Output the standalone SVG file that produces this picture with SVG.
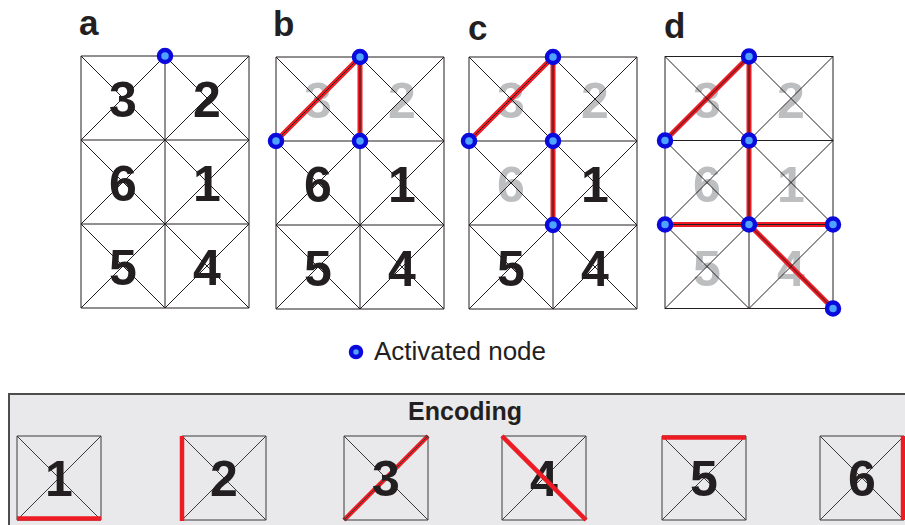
<svg xmlns="http://www.w3.org/2000/svg" xmlns:xlink="http://www.w3.org/1999/xlink" width="905" height="525" viewBox="0 0 905 525">
<style>
.lbl{font-family:"Liberation Sans",Arial,sans-serif;font-weight:bold;font-size:35px;fill:#231f20}
.dg{font-family:"Liberation Sans",Arial,sans-serif;font-weight:bold;font-size:50px;text-anchor:middle;fill:#231f20}
.gr{fill:#bcbec0}
.grid{fill:none;stroke:#231f20;stroke-width:1}
.edge{stroke:#ed1c24;stroke-width:5;stroke-linecap:round;fill:none}
.enc{stroke:#ed1c24;stroke-width:4.5;fill:none}
.node{fill:#4da3ff;stroke:#0a0adc;stroke-width:4.5}
.legend{font-family:"Liberation Sans",Arial,sans-serif;font-size:26px;fill:#231f20}
.title{font-family:"Liberation Sans",Arial,sans-serif;font-weight:bold;font-size:25px;fill:#231f20;text-anchor:middle}
.sq{fill:none;stroke:#3a3a3a;stroke-width:1}
</style>
<defs>
<path id="grid" class="grid" d="M0 0H168V252H0Z M84 0V252 M0 84H168 M0 168H168 M0 0L84 84 M84 0L0 84 M84 0L168 84 M168 0L84 84 M0 84L84 168 M84 84L0 168 M84 84L168 168 M168 84L84 168 M0 168L84 252 M84 168L0 252 M84 168L168 252 M168 168L84 252"/>
<path id="sq" class="sq" d="M0 0H84V84H0Z M0 0L84 84 M84 0L0 84"/>
</defs>

<!-- Panel a -->
<g id="panel-a">
<text class="lbl" x="79" y="35">a</text>
<g transform="translate(81,56)">
<text class="dg" x="42" y="61">3</text><text class="dg" x="126" y="61">2</text>
<text class="dg" x="42" y="145">6</text><text class="dg" x="126" y="145">1</text>
<text class="dg" x="42" y="229">5</text><text class="dg" x="126" y="229">4</text>
<use xlink:href="#grid"/>
</g>
</g>

<!-- Panel b -->
<g id="panel-b">
<text class="lbl" x="273" y="36">b</text>
<g transform="translate(276,57)">
<text class="dg gr" x="42" y="61">3</text><text class="dg gr" x="126" y="61">2</text>
<text class="dg" x="42" y="145">6</text><text class="dg" x="126" y="145">1</text>
<text class="dg" x="42" y="229">5</text><text class="dg" x="126" y="229">4</text>
</g>
</g>

<!-- Panel c -->
<g id="panel-c">
<text class="lbl" x="468" y="40">c</text>
<g transform="translate(469,57)">
<text class="dg gr" x="42" y="61">3</text><text class="dg gr" x="126" y="61">2</text>
<text class="dg gr" x="42" y="145">6</text><text class="dg" x="126" y="145">1</text>
<text class="dg" x="42" y="229">5</text><text class="dg" x="126" y="229">4</text>
</g>
</g>

<!-- Panel d -->
<g id="panel-d">
<text class="lbl" x="664" y="38">d</text>
<g transform="translate(665,56.5)">
<text class="dg gr" x="42" y="61">3</text><text class="dg gr" x="126" y="61">2</text>
<text class="dg gr" x="42" y="145">6</text><text class="dg gr" x="126" y="145">1</text>
<text class="dg gr" x="42" y="229">5</text><text class="dg gr" x="126" y="229">4</text>
</g>
</g>

<!-- Connectors -->
<g id="connectors">
<g transform="translate(276,57)">
<path class="edge" d="M84 0L0 84 M84 0V84"/>
</g>
<g transform="translate(469,57)">
<path class="edge" d="M84 0L0 84 M84 0V168"/>
</g>
<g transform="translate(665,56.5)">
<path class="edge" d="M84 0L0 84 M84 0V168 M0 168H168 M84 168L168 252"/>
</g>
</g>

<!-- grids on top of connectors -->
<g id="grids">
<use xlink:href="#grid" transform="translate(276,57)"/>
<use xlink:href="#grid" transform="translate(469,57)"/>
<use xlink:href="#grid" transform="translate(665,56.5)"/>
</g>

<!-- Activated nodes -->
<g id="node-a1"><circle class="node" cx="165" cy="56" r="6"/></g>
<g id="node-b1"><circle class="node" cx="360" cy="57" r="6"/></g>
<g id="node-b2"><circle class="node" cx="276" cy="141" r="6"/></g>
<g id="node-b3"><circle class="node" cx="360" cy="141" r="6"/></g>
<g id="node-c1"><circle class="node" cx="553" cy="57" r="6"/></g>
<g id="node-c2"><circle class="node" cx="469" cy="141" r="6"/></g>
<g id="node-c3"><circle class="node" cx="553" cy="141" r="6"/></g>
<g id="node-c4"><circle class="node" cx="553" cy="225" r="6"/></g>
<g id="node-d1"><circle class="node" cx="749" cy="56.5" r="6"/></g>
<g id="node-d2"><circle class="node" cx="665" cy="140.5" r="6"/></g>
<g id="node-d3"><circle class="node" cx="749" cy="140.5" r="6"/></g>
<g id="node-d4"><circle class="node" cx="665" cy="224.5" r="6"/></g>
<g id="node-d5"><circle class="node" cx="749" cy="224.5" r="6"/></g>
<g id="node-d6"><circle class="node" cx="833" cy="224.5" r="6"/></g>
<g id="node-d7"><circle class="node" cx="833" cy="308.5" r="6"/></g>

<!-- Legend -->
<g id="legend">
<circle class="node" cx="356" cy="352" r="5"/>
<text class="legend" x="374" y="360">Activated node</text>
</g>

<!-- Encoding box -->
<g id="encoding">
<rect x="9" y="394" width="910" height="150" fill="#e9e9eb" stroke="#4d4d4d" stroke-width="2"/>
<text class="title" x="465" y="420">Encoding</text>
<g id="enc-1" transform="translate(17,436)">
<use xlink:href="#sq"/><text class="dg" x="42" y="60">1</text>
<path class="enc" d="M0 82.5H84"/>
</g>
<g id="enc-2" transform="translate(182,436)">
<use xlink:href="#sq"/><text class="dg" x="42" y="60">2</text>
<path class="enc" d="M0 0V85"/>
</g>
<g id="enc-3" transform="translate(344,436)">
<path class="enc" d="M0 84L84 0"/>
<use xlink:href="#sq"/><text class="dg" x="42" y="60">3</text>
</g>
<g id="enc-4" transform="translate(502,436)">
<use xlink:href="#sq"/><text class="dg" x="42" y="60">4</text>
<path class="enc" d="M0 0L84 84"/>
</g>
<g id="enc-5" transform="translate(662,436)">
<use xlink:href="#sq"/><text class="dg" x="42" y="60">5</text>
<path class="enc" d="M0 1.5H84"/>
</g>
<g id="enc-6" transform="translate(820,436)">
<use xlink:href="#sq"/><text class="dg" x="42" y="60">6</text>
<path class="enc" d="M83 0V84"/>
</g>
</g>
</svg>
